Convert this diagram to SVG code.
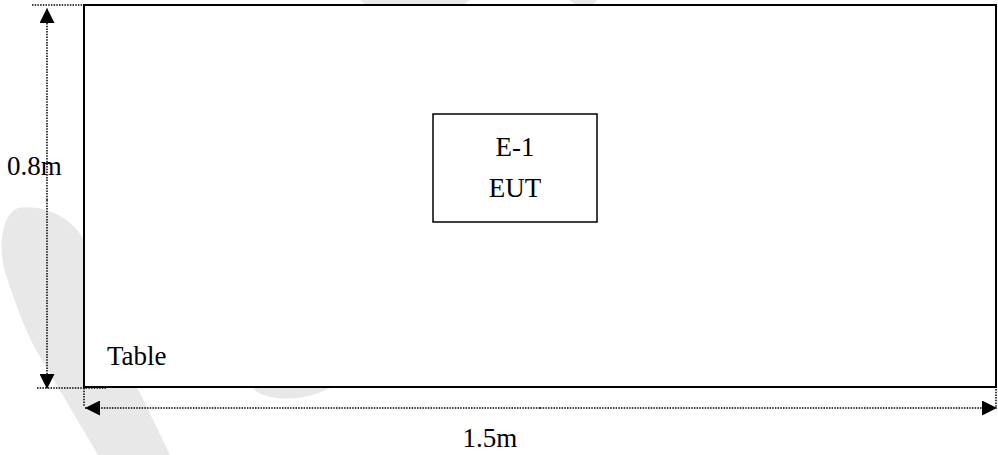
<svg xmlns="http://www.w3.org/2000/svg" width="998" height="455" viewBox="0 0 998 455">
  <style>
    .lbl { font-family: "Liberation Serif", "Times New Roman", serif; font-size: 27px; fill: #000; }
    .box { fill: #fff; stroke: #000; }
    .dot { fill: none; stroke: #000; stroke-width: 1.5; stroke-dasharray: 1.5 1.2; }
    .wm { fill: #e8e8e8; stroke: none; }
  </style>
  <defs>
    <marker id="arr" viewBox="0 0 10 10" refX="10" refY="5" markerUnits="userSpaceOnUse" markerWidth="15" markerHeight="15" orient="auto">
      <path d="M0,0 L10,5 L0,10 Z" fill="#000"/>
    </marker>
  </defs>
  <rect x="0" y="0" width="998" height="455" fill="#fff"/>
  <g id="watermark">
    <path class="wm" d="M18 208 C2 214 -2 245 5 272 C14 300 25 330 36 350 L98 455 L170 455 L140 393 L84 300 L84 240 C72 218 45 204 18 208 Z"/>
    <path class="wm" d="M253 388 C262 400 300 404 330 388 Z"/>
    <path class="wm" d="M360 0 L470 0 L462 6 L368 6 Z"/>
    <path class="wm" d="M570 0 L597 0 L592 6 L576 6 Z"/>
  </g>
  <g id="table">
    <rect class="box" x="84" y="5" width="912" height="382" stroke-width="2"/>
    <text class="lbl" x="107" y="365">Table</text>
  </g>
  <g id="eut">
    <rect class="box" x="433" y="114" width="164" height="108" stroke-width="1.5"/>
    <text class="lbl" x="515" y="156" text-anchor="middle">E-1</text>
    <text class="lbl" x="515" y="197" text-anchor="middle">EUT</text>
  </g>
  <g id="connectors">
    <line class="dot" x1="32" y1="5" x2="100" y2="5"/>
    <line class="dot" x1="37" y1="388" x2="107" y2="388"/>
    <line class="dot" x1="47" y1="200" x2="47" y2="8" marker-end="url(#arr)"/>
    <line class="dot" x1="47" y1="200" x2="47" y2="389" marker-end="url(#arr)"/>
    <line class="dot" x1="84" y1="388" x2="84" y2="407"/>
    <line class="dot" x1="996" y1="389" x2="996" y2="408"/>
    <line class="dot" x1="540" y1="408" x2="85" y2="408" marker-end="url(#arr)"/>
    <line class="dot" x1="540" y1="408" x2="997" y2="408" marker-end="url(#arr)"/>
  </g>
  <g id="dimension-labels">
    <text class="lbl" x="7" y="175">0.8m</text>
    <text class="lbl" x="490" y="447" text-anchor="middle">1.5m</text>
  </g>
</svg>
